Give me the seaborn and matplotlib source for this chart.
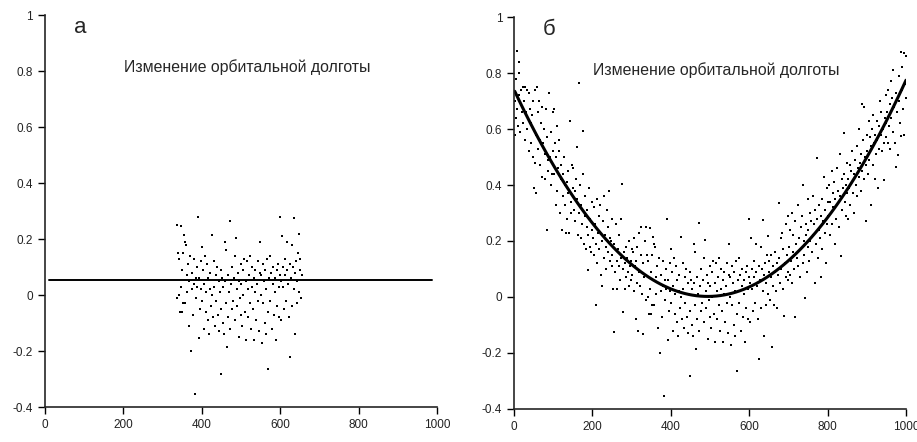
import numpy as np
import pandas as pd
import matplotlib
matplotlib.use("Agg")
import matplotlib.pyplot as plt
import seaborn as sns

# точки: шаг (x) и изменение орбитальной долготы (y)
step = [
    2, 3, 5, 6, 8, 8, 10, 12, 13, 14, 16, 18, 20, 22, 24, 25, 27, 29, 30, 32, 34, 36, 38, 39, 41, 43, 44, 46, 48, 49,
    51, 53, 54, 56, 57, 59, 61, 62, 64, 66, 67, 69, 71, 72, 74, 76, 78, 79, 81, 83, 85, 87, 88, 90, 92, 94, 95, 97, 99, 100,
    101, 103, 104, 106, 108, 109, 111, 113, 114, 116, 118, 119, 121, 123, 124, 126, 128, 129, 131, 133, 134, 136, 138, 139, 141, 143, 145, 146, 148, 150,
    151, 153, 155, 156, 158, 160, 162, 163, 165, 166, 168, 170, 172, 173, 175, 176, 178, 180, 182, 183, 185, 187, 189, 190, 192, 194, 195, 197, 199, 200,
    201, 203, 205, 206, 208, 210, 212, 213, 215, 217, 218, 220, 222, 224, 225, 227, 229, 230, 232, 234, 236, 237, 239, 241, 243, 244, 246, 248, 249, 250,
    251, 253, 255, 256, 258, 260, 262, 263, 265, 267, 268, 270, 272, 274, 275, 277, 279, 281, 282, 284, 286, 287, 289, 291, 293, 294, 296, 298, 299, 300,
    301, 303, 305, 306, 308, 310, 312, 313, 315, 317, 318, 320, 322, 324, 325, 327, 329, 330, 332, 334, 336, 337, 339, 341, 343, 344, 346, 348, 349, 350,
    351, 353, 355, 356, 358, 360, 362, 363, 365, 367, 368, 370, 372, 374, 375, 377, 379, 381, 382, 384, 386, 387, 389, 391, 393, 394, 396, 398, 399, 400,
    401, 403, 405, 406, 408, 410, 412, 413, 415, 417, 418, 420, 422, 424, 425, 427, 429, 431, 432, 434, 436, 437, 439, 441, 443, 444, 446, 448, 449, 450,
    451, 453, 455, 456, 458, 460, 462, 463, 465, 466, 468, 470, 471, 473, 475, 477, 478, 480, 482, 484, 486, 487, 489, 491, 493, 494, 496, 498, 499, 500,
    501, 503, 505, 506, 508, 510, 512, 513, 515, 517, 518, 520, 522, 524, 525, 527, 529, 531, 532, 534, 536, 537, 539, 541, 543, 544, 546, 548, 549, 550,
    551, 553, 555, 556, 558, 560, 562, 563, 565, 567, 568, 570, 572, 574, 575, 577, 579, 581, 582, 584, 586, 587, 589, 591, 593, 594, 596, 598, 599, 600,
    601, 603, 605, 606, 608, 610, 612, 613, 615, 617, 618, 620, 622, 624, 625, 627, 629, 631, 632, 634, 636, 637, 639, 641, 643, 644, 646, 648, 649, 650,
    651, 653, 655, 656, 658, 660, 662, 663, 665, 667, 668, 670, 672, 674, 675, 677, 679, 681, 682, 684, 686, 687, 689, 691, 693, 694, 696, 698, 699, 700,
    701, 703, 705, 706, 708, 710, 712, 713, 715, 717, 718, 720, 722, 724, 725, 727, 729, 731, 732, 734, 736, 737, 739, 741, 743, 744, 746, 748, 749, 750,
    751, 753, 755, 756, 758, 760, 762, 763, 765, 767, 768, 770, 772, 774, 775, 777, 779, 781, 782, 784, 786, 787, 789, 791, 793, 794, 796, 798, 799, 800,
    801, 803, 805, 806, 808, 810, 812, 813, 815, 817, 818, 820, 822, 824, 825, 827, 829, 831, 832, 834, 836, 837, 839, 841, 843, 844, 846, 848, 849, 850,
    851, 853, 855, 856, 858, 860, 862, 863, 865, 867, 868, 870, 872, 874, 875, 877, 879, 881, 882, 884, 886, 887, 889, 891, 893, 894, 896, 898, 899, 900,
    901, 903, 905, 906, 908, 910, 912, 913, 915, 917, 918, 920, 922, 924, 925, 927, 929, 931, 932, 934, 936, 937, 939, 941, 943, 944, 946, 948, 949, 950,
    951, 953, 955, 956, 958, 960, 962, 963, 965, 967, 968, 970, 972, 974, 975, 977, 979, 981, 982, 984, 986, 987, 989, 991, 993, 994, 996, 998, 999, 1000,
]
dlong = [
    0.70, 0.58, 0.78, 0.64, 0.88, 0.67, 0.61, 0.80, 0.84, 0.72, 0.59, 0.74, 0.66, 0.75, 0.62, 0.70, 0.75, 0.56, 0.66, 0.74, 0.60, 0.64, 0.73, 0.52, 0.67, 0.62, 0.55, 0.65, 0.70, 0.50,
    0.39, 0.74, 0.48, 0.58, 0.37, 0.75, 0.66, 0.53, 0.70, 0.56, 0.47, 0.62, 0.43, 0.68, 0.55, 0.60, 0.42, 0.51, 0.67, 0.57, 0.24, 0.45, 0.49, 0.73, 0.50, 0.40, 0.59, 0.44, 0.66, 0.52,
    0.67, 0.44, 0.55, 0.33, 0.50, 0.61, 0.38, 0.46, 0.52, 0.56, 0.30, 0.42, 0.47, 0.24, 0.36, 0.44, 0.50, 0.40, 0.33, 0.23, 0.41, 0.28, 0.37, 0.45, 0.23, 0.63, 0.34, 0.30, 0.47, 0.39,
    0.46, 0.31, 0.38, 0.27, 0.42, 0.35, 0.537, 0.22, 0.30, 0.763, 0.40, 0.21, 0.33, 0.26, 0.44, 0.593, 0.19, 0.29, 0.36, 0.17, 0.25, 0.31, 0.095, 0.22, 0.39, 0.18, 0.28, 0.16, 0.34, 0.24,
    0.21, 0.32, 0.15, 0.26, -0.029, 0.19, 0.35, 0.12, 0.23, 0.29, 0.17, 0.33, 0.08, 0.20, 0.04, 0.27, 0.14, 0.36, 0.22, 0.18, 0.10, 0.31, 0.25, 0.16, 0.38, 0.21, 0.13, 0.20, 0.28, 0.11,
    0.15, 0.03, -0.124, 0.19, 0.09, 0.26, 0.13, 0.03, 0.17, 0.11, 0.22, 0.06, 0.14, 0.28, 0.402, -0.052, 0.10, 0.16, 0.03, 0.12, 0.07, 0.18, 0.14, 0.09, 0.04, 0.20, 0.11, 0.06, 0.13, 0.17,
    0.08, 0.16, 0.02, 0.21, 0.11, -0.08, 0.13, 0.05, 0.18, -0.121, 0.09, 0.23, 0.04, 0.15, 0.25, 0.01, 0.12, -0.133, 0.07, 0.20, 0.25, -0.01, 0.15, 0.00, 0.13, -0.06, 0.03, 0.245, 0.09, -0.06,
    -0.03, 0.15, 0.215, 0.19, -0.03, 0.18, 0.07, 0.01, 0.11, -0.11, 0.05, 0.14, -0.199, 0.02, 0.08, -0.07, 0.04, 0.13, -0.352, 0.06, -0.01, 0.10, 0.03, 0.277, -0.154, 0.06, -0.05, 0.12, 0.02, 0.17,
    -0.02, 0.09, -0.12, 0.04, 0.14, -0.06, 0.01, 0.11, -0.09, 0.06, -0.14, 0.02, 0.08, -0.04, 0.213, 0.00, -0.08, 0.12, 0.03, -0.11, 0.07, -0.02, 0.10, -0.07, 0.05, -0.13, 0.01, -0.05, 0.09, -0.281,
    0.06, -0.10, 0.03, -0.14, 0.19, 0.05, -0.03, 0.16, -0.185, 0.07, -0.08, 0.01, 0.265, -0.12, 0.04, -0.05, 0.10, -0.02, 0.06, 0.14, -0.09, 0.204, 0.02, -0.04, 0.08, -0.15, 0.05, -0.01, 0.11, -0.07,
    0.04, -0.11, 0.09, 0.00, 0.13, -0.06, 0.05, -0.16, 0.12, 0.02, -0.08, 0.07, -0.03, 0.14, -0.12, 0.03, 0.10, -0.05, 0.06, -0.16, 0.01, 0.09, -0.09, 0.04, 0.12, -0.02, -0.13, 0.08, 0.19, 0.00,
    0.07, -0.17, 0.11, -0.03, 0.05, -0.10, 0.09, 0.02, -0.14, 0.13, -0.06, -0.264, 0.06, 0.14, -0.02, 0.08, -0.12, 0.04, 0.10, -0.07, 0.06, 0.01, -0.16, 0.09, -0.04, 0.11, 0.03, -0.08, 0.07, 0.279,
    0.05, -0.09, 0.21, 0.03, 0.10, -0.05, 0.07, 0.13, -0.02, 0.09, 0.19, 0.04, -0.08, 0.11, -0.221, 0.06, 0.18, -0.04, 0.10, 0.02, 0.275, 0.08, -0.14, 0.12, 0.05, -0.03, 0.15, 0.01, 0.218, 0.09,
    0.13, -0.01, 0.07, 0.15, -0.18, 0.04, 0.11, -0.03, 0.09, 0.16, 0.02, 0.12, -0.04, 0.08, 0.335, 0.14, 0.05, 0.21, 0.10, 0.23, 0.03, 0.17, -0.068, 0.12, 0.07, 0.26, 0.15, 0.09, 0.29, 0.06,
    0.18, 0.08, 0.24, 0.13, 0.30, 0.05, 0.16, 0.22, 0.10, 0.27, -0.07, 0.19, 0.14, 0.33, 0.11, 0.21, 0.07, 0.25, 0.17, 0.29, 0.12, 0.40, 0.20, 0.15, -0.005, 0.26, 0.22, 0.09, 0.35, 0.18,
    0.24, 0.13, 0.30, 0.20, 0.27, 0.16, 0.36, 0.22, 0.26, 0.05, 0.31, 0.19, 0.495, 0.28, 0.14, 0.24, 0.33, 0.21, 0.073, 0.29, 0.35, 0.17, 0.27, 0.43, 0.23, 0.31, 0.12, 0.26, 0.39, 0.34,
    0.29, 0.40, 0.22, 0.34, 0.30, 0.45, 0.26, 0.37, 0.32, 0.41, 0.19, 0.35, 0.28, 0.46, 0.33, 0.38, 0.25, 0.51, 0.36, 0.146, 0.42, 0.31, 0.39, 0.585, 0.44, 0.34, 0.29, 0.40, 0.48, 0.37,
    0.42, 0.28, 0.39, 0.47, 0.33, 0.45, 0.41, 0.52, 0.37, 0.44, 0.30, 0.49, 0.40, 0.54, 0.36, 0.46, 0.43, 0.60, 0.48, 0.38, 0.51, 0.69, 0.45, 0.56, 0.42, 0.68, 0.50, 0.27, 0.47, 0.58,
    0.52, 0.44, 0.63, 0.49, 0.57, 0.33, 0.54, 0.60, 0.47, 0.65, 0.55, 0.42, 0.58, 0.51, 0.63, 0.56, 0.39, 0.61, 0.53, 0.70, 0.58, 0.66, 0.52, 0.60, 0.417, 0.55, 0.64, 0.72, 0.57, 0.62,
    0.66, 0.55, 0.74, 0.61, 0.69, 0.53, 0.77, 0.64, 0.71, 0.59, 0.81, 0.68, 0.55, 0.465, 0.73, 0.66, 0.507, 0.79, 0.70, 0.62, 0.876, 0.575, 0.74, 0.82, 0.67, 0.873, 0.579, 0.76, 0.71, 0.86,
]

# окно для панели "а" и уровень горизонтальной линии
window_a = (335, 655)
level_a = 0.055
level_a_span = [10, 987]

xticks = [0, 200, 400, 600, 800, 1000]
xtick_labels = ["0", "200", "400", "600", "800", "1000"]
yticks = [-0.4, -0.2, 0, 0.2, 0.4, 0.6, 0.8, 1]
ytick_labels = ["-0.4", "-0.2", "0", "0.2", "0.4", "0.6", "0.8", "1"]
title = "Изменение орбитальной долготы"

df = pd.DataFrame({"step": step, "dlong": dlong})
df_a = df[(df.step >= window_a[0]) & (df.step <= window_a[1])]

sns.set_style("ticks")
plt.rcParams["font.family"] = ["Liberation Sans", "DejaVu Sans"]

fig = plt.figure(figsize=(9.17, 4.42), dpi=100)
ax_a = fig.add_axes([0.049, 0.079, 0.4276, 0.887])
ax_b = fig.add_axes([0.5605, 0.0747, 0.4275, 0.8868])

# панель а
sns.scatterplot(data=df_a, x="step", y="dlong", ax=ax_a, color="black",
                s=4, marker="s", linewidth=0)
sns.lineplot(x=level_a_span, y=[level_a, level_a], ax=ax_a, color="black", lw=1.4)

# панель б
sns.scatterplot(data=df, x="step", y="dlong", ax=ax_b, color="black",
                s=4, marker="s", linewidth=0)
sns.regplot(data=df, x="step", y="dlong", ax=ax_b, scatter=False, order=2,
            ci=None, truncate=True, line_kws={"color": "black", "lw": 2.2})

for ax, letter, ty in [(ax_a, "а", 0.814), (ax_b, "б", 0.81)]:
    ax.set_xlim(0, 1000)
    ax.set_ylim(-0.4, 1)
    ax.set_xticks(xticks)
    ax.set_xticklabels(xtick_labels)
    ax.set_yticks(yticks)
    ax.set_yticklabels(ytick_labels)
    ax.set_xlabel("")
    ax.set_ylabel("")
    ax.tick_params(labelsize=8.5, length=5, width=1, colors="black", labelcolor="#222222")
    for side in ["left", "bottom"]:
        ax.spines[side].set_linewidth(1.2)
    sns.despine(ax=ax)
    ax.text(515, ty, title, ha="center", va="center", fontsize=11.4)
    ax.text(90, 0.955, letter, ha="center", va="center", fontsize=16)

fig.savefig("out.png", dpi=100)
